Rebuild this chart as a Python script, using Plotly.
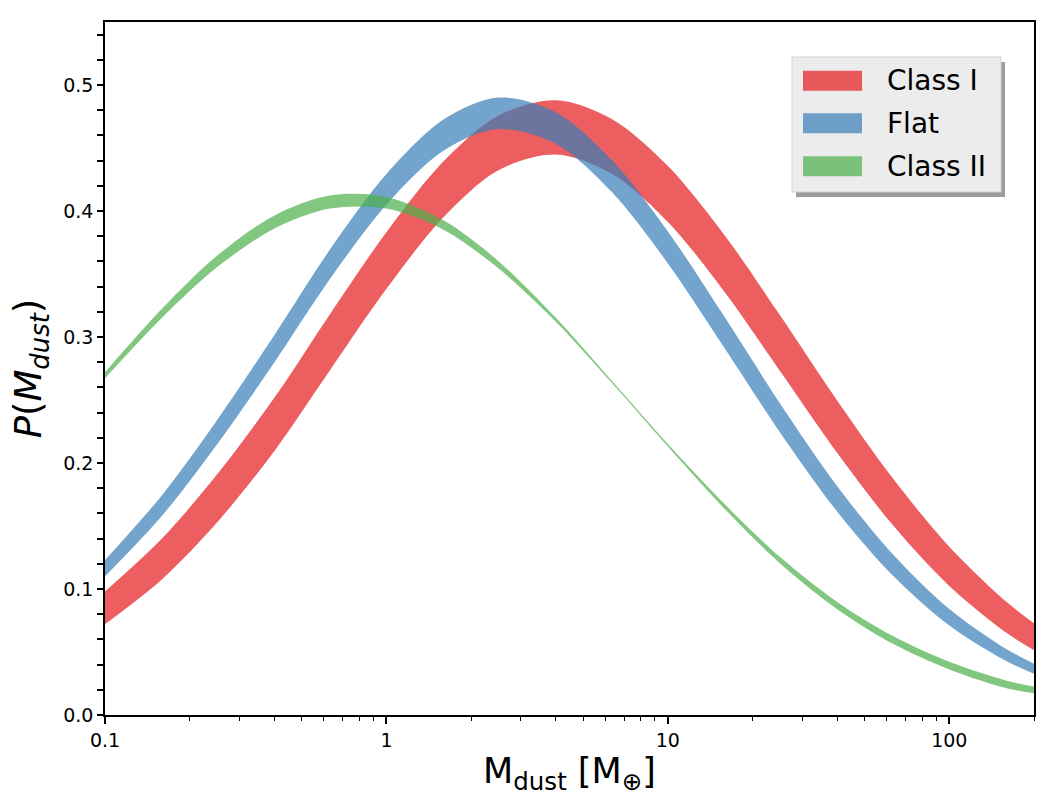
import plotly.graph_objects as go

# ---- data ----
mass = [0.1, 0.16, 0.25, 0.4, 0.63, 1, 1.6, 2.5, 4, 6.3, 10, 16, 25, 40, 63, 100, 160, 200]

class1_low = [0.0721, 0.1080, 0.1527, 0.2096, 0.2736, 0.3382, 0.3954, 0.4324, 0.4448, 0.4297,
              0.3913, 0.3350, 0.2732, 0.2079, 0.1507, 0.1024, 0.0651, 0.0514]
class1_high = [0.0981, 0.1405, 0.1908, 0.2519, 0.3181, 0.3831, 0.4396, 0.4757, 0.4879, 0.4732,
               0.4357, 0.3800, 0.3174, 0.2494, 0.1878, 0.1336, 0.0896, 0.0728]

flat_low = [0.1101, 0.1586, 0.2147, 0.2800, 0.3461, 0.4050, 0.4480, 0.4650, 0.4532, 0.4154,
            0.3584, 0.2903, 0.2245, 0.1614, 0.1107, 0.0711, 0.0427, 0.0327]
flat_high = [0.1230, 0.1749, 0.2339, 0.3016, 0.3694, 0.4293, 0.4728, 0.4900, 0.4784, 0.4408,
             0.3838, 0.3150, 0.2475, 0.1816, 0.1276, 0.0842, 0.0522, 0.0407]

class2_high = [0.2721, 0.3228, 0.3644, 0.3965, 0.4123, 0.4112, 0.3924, 0.3602, 0.3152, 0.2656,
               0.2150, 0.1668, 0.1255, 0.0896, 0.0626, 0.0422, 0.0272, 0.0226]
class2_low = [0.2672, 0.3156, 0.3553, 0.3861, 0.4019, 0.4019, 0.3850, 0.3545, 0.3122, 0.2640,
              0.2130, 0.1630, 0.1205, 0.0840, 0.0565, 0.0362, 0.0213, 0.0172]

labels = ["Class I", "Flat", "Class II"]
colors = ["rgba(228,26,28,0.7)", "rgba(55,126,184,0.7)", "rgba(77,175,74,0.7)"]
bands = [(class1_low, class1_high), (flat_low, flat_high), (class2_low, class2_high)]

y_ticks = [0.0, 0.1, 0.2, 0.3, 0.4, 0.5]
x_ticks = [0.1, 1, 10, 100]
x_ticktext = ["0.1", "1", "10", "100"]
x_minor = [0.2, 0.3, 0.4, 0.5, 0.6, 0.7, 0.8, 0.9, 2, 3, 4, 5, 6, 7, 8, 9,
           20, 30, 40, 50, 60, 70, 80, 90, 200]

FONT = "DejaVu Sans"

fig = go.Figure()
for (lo, hi), name, col in zip(bands, labels, colors):
    fig.add_trace(go.Scatter(
        x=mass, y=lo, mode="lines",
        line=dict(width=0, shape="spline", smoothing=0.9, color=col),
        showlegend=False, hoverinfo="skip", name=name + " (lower)"))
    fig.add_trace(go.Scatter(
        x=mass, y=hi, mode="lines", fill="tonexty", fillcolor=col,
        line=dict(width=0, shape="spline", smoothing=0.9, color=col),
        name=name, showlegend=False, hoverinfo="skip"))

# ---- layout ----
W, H = 1058, 808
L, R, T, B = 105, 1034, 22, 715


def px(x):
    return (x - L) / (R - L)


def py(y):
    return (B - y) / (B - T)


shapes = []
# legend shadow
shapes.append(dict(type="rect", xref="paper", yref="paper", layer="above",
                   x0=px(796), x1=px(1005), y0=py(62), y1=py(197),
                   fillcolor="#9c9c9c", line=dict(width=0)))
# legend box
shapes.append(dict(type="rect", xref="paper", yref="paper", layer="above",
                   x0=px(792), x1=px(1001), y0=py(57), y1=py(192),
                   fillcolor="#ececec", line=dict(width=1, color="#d2d2d2")))
annotations = []
row_y = [80.7, 123.3, 166.3]
for name, col, yc in zip(labels, colors, row_y):
    shapes.append(dict(type="rect", xref="paper", yref="paper", layer="above",
                       x0=px(803), x1=px(862), y0=py(yc - 10), y1=py(yc + 10),
                       fillcolor=col, line=dict(width=0)))
    annotations.append(dict(xref="paper", yref="paper", x=px(885), y=py(yc),
                            xanchor="left", yanchor="middle", showarrow=False,
                            text=name, font=dict(family=FONT, size=28, color="black")))

fig.update_layout(
    width=W, height=H,
    margin=dict(l=L, r=W - R, t=T, b=H - B, pad=0),
    plot_bgcolor="white", paper_bgcolor="white",
    font=dict(family=FONT, color="black"),
    shapes=shapes, annotations=annotations,
    showlegend=False,
)

fig.update_xaxes(
    type="log", range=[-1, 2.30103],
    tickmode="array", tickvals=x_ticks, ticktext=x_ticktext,
    ticks="outside", ticklen=7, tickwidth=1.5, tickcolor="black",
    tickfont=dict(family=FONT, size=19),
    minor=dict(tickmode="array", tickvals=x_minor, ticks="outside",
               ticklen=4, tickwidth=1, tickcolor="black", showgrid=False),
    showline=True, linecolor="black", linewidth=1.5, mirror=True,
    showgrid=False, zeroline=False,
    title=dict(text="M<sub>dust</sub> [M<sub>⊕</sub>]",
               font=dict(family=FONT, size=35), standoff=9),
)
fig.update_yaxes(
    range=[0, 0.55],
    tickmode="array", tickvals=y_ticks, tickformat=".1f",
    ticks="outside", ticklen=6, tickwidth=2, tickcolor="black",
    tickfont=dict(family=FONT, size=19),
    minor=dict(dtick=0.02, tick0=0, ticks="outside",
               ticklen=6, tickwidth=2, tickcolor="black", showgrid=False),
    showline=True, linecolor="black", linewidth=1.5, mirror=True,
    showgrid=False, zeroline=False,
    title=dict(text="<i>P</i>(<i>M</i><sub><i>dust</i></sub>)",
               font=dict(family=FONT, size=37), standoff=10),
)

fig.write_html("out.html")
